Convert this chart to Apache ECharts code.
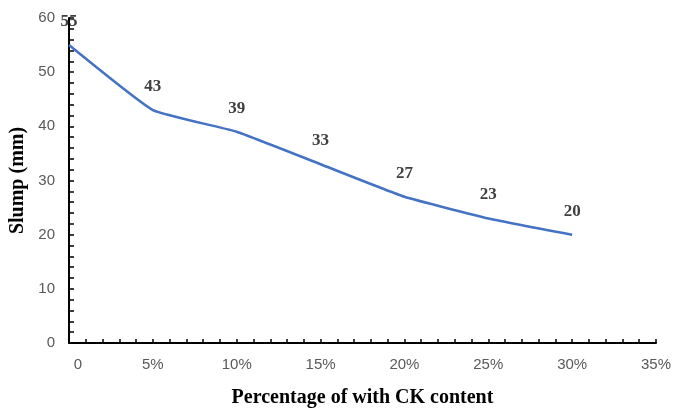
<!DOCTYPE html>
<html><head><meta charset="utf-8">
<script src="https://cdn.jsdelivr.net/npm/echarts@6/dist/echarts.min.js"></script>
<style>html,body{margin:0;padding:0;background:#fff}#c{width:686px;height:410px}</style>
</head><body><div id="c"></div>
<script>
var xValues = [0, 5, 10, 15, 20, 25, 30];
var slump = [55, 43, 39, 33, 27, 23, 20];
var xTicks = ['0', '5%', '10%', '15%', '20%', '25%', '30%', '35%'];
var yTicks = [0, 10, 20, 30, 40, 50, 60];

var chart = echarts.init(document.getElementById('c'), null, {renderer: 'canvas'});
var serif = 'Liberation Serif';
var sans = 'Liberation Sans';
chart.setOption({
  animation: false,
  backgroundColor: '#fff',
  grid: {left: 69, right: 30, top: 18, bottom: 67, containLabel: false, outerBoundsMode: 'none'},
  xAxis: {
    type: 'value', min: 0, max: 35, interval: 5,
    name: 'Percentage of with CK content', nameLocation: 'middle', nameGap: 45,
    nameTextStyle: {fontFamily: serif, fontWeight: 'bold', fontSize: 20, color: '#000'},
    axisLine: {show: true, lineStyle: {color: '#000', width: 2}},
    axisTick: {show: true, inside: true, length: 4, lineStyle: {color: '#000', width: 1.5}},
    minorTick: {show: true, splitNumber: 5, length: 4, lineStyle: {color: '#000', width: 1.5}},
    splitLine: {show: false},
    axisLabel: {
      margin: 14, fontFamily: sans, fontSize: 15, color: '#595959',
      formatter: function (v) { var i = Math.round(v / 5); return i === 0 ? '{z|' + xTicks[0] + '}' : xTicks[i]; },
      rich: {z: {fontFamily: sans, fontSize: 15, color: '#595959', padding: [0, 0, 0, 18]}}
    }
  },
  yAxis: {
    type: 'value', min: 0, max: 60, interval: 10,
    name: 'Slump (mm)', nameLocation: 'middle', nameGap: 41,
    nameTextStyle: {fontFamily: serif, fontWeight: 'bold', fontSize: 20, color: '#000'},
    axisLine: {show: true, lineStyle: {color: '#000', width: 2}},
    axisTick: {show: true, inside: true, length: 5, lineStyle: {color: '#000', width: 1.5}},
    minorTick: {show: true, splitNumber: 5, length: 5, lineStyle: {color: '#000', width: 1.5}},
    splitLine: {show: false},
    axisLabel: {
      margin: 14, fontFamily: sans, fontSize: 15, color: '#595959',
      formatter: function (v) { return String(yTicks[Math.round(v / 10)]); }
    }
  },
  series: [{
    type: 'line',
    data: xValues.map(function (x, i) { return [x, slump[i]]; }),
    smooth: 0.12,
    showSymbol: true,
    symbol: 'circle',
    symbolSize: 2,
    itemStyle: {color: 'rgba(0,0,0,0)', borderWidth: 0},
    lineStyle: {color: '#4472C4', width: 2.5},
    label: {
      show: true, position: 'top', distance: 14,
      fontFamily: serif, fontWeight: 'bold', fontSize: 17, color: '#404040',
      formatter: function (p) { return String(p.value[1]); }
    },
    labelLayout: {hideOverlap: false}
  }]
});
</script></body></html>
